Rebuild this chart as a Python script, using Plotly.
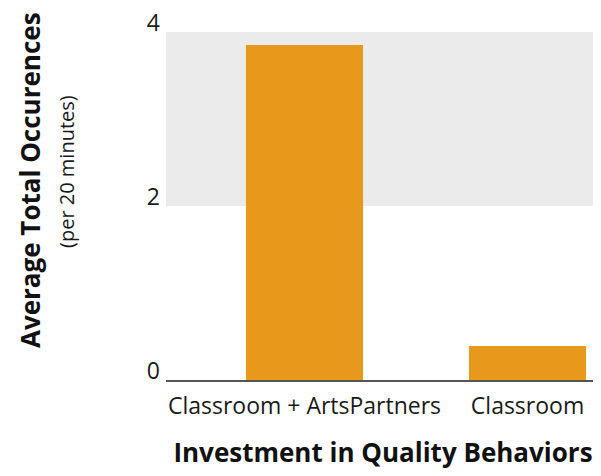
import plotly.graph_objects as go

categories = ["Classroom + ArtsPartners", "Classroom"]
values = [3.85, 0.39]
y_ticks = [0, 2, 4]
band = [2, 4]

bar_color = "#E8991C"
font_fam = "Open Sans, Lato, sans-serif"

fig = go.Figure(go.Bar(x=categories, y=values, marker=dict(color=bar_color, line=dict(width=0))))

fig.add_shape(type="rect", xref="paper", x0=0, x1=1, yref="y", y0=band[0], y1=band[1],
              fillcolor="#EBEBEB", line=dict(width=0), layer="below")

# page body has an 8px margin, so the figure is sized to fill the rest of the window
fig.update_layout(
    width=593, height=468,
    margin=dict(l=158, r=1, t=24, b=96, autoexpand=False),
    paper_bgcolor="white", plot_bgcolor="white",
    bargap=0.475,
    showlegend=False,
    font=dict(family=font_fam, color="#1a1a1a"),
    xaxis=dict(
        range=[-0.621, 1.325], automargin=False,
        showline=True, linecolor="#555555", linewidth=2,
        showgrid=False, ticks="", tickfont=dict(size=23, color="#1a1a1a"),
        ticklabelstandoff=4,
        title=dict(text="<b>Investment in Quality Behaviors</b>", font=dict(size=26, color="#111111"), standoff=24),
    ),
    yaxis=dict(
        range=[0, 4], tickvals=y_ticks, ticktext=[str(v) for v in y_ticks], automargin=False,
        showgrid=False, zeroline=False, showline=False, ticks="",
        tickfont=dict(size=23, color="#1a1a1a"),
        ticklabelposition="outside top",
        ticklabeloverflow="allow",
        ticklabelstandoff=5,
        ticklabelshift=7,
    ),
    annotations=[
        dict(text="<b>Average Total Occurences</b>", textangle=-90, xref="paper", yref="paper",
             x=-0.313, y=0.575, xanchor="center", yanchor="middle", showarrow=False,
             font=dict(size=26, color="#111111", family=font_fam)),
        dict(text="(per 20 minutes)", textangle=-90, xref="paper", yref="paper",
             x=-0.228, y=0.598, xanchor="center", yanchor="middle", showarrow=False,
             font=dict(size=20, color="#1a1a1a", family=font_fam)),
    ],
)

fig.write_html("out.html")
